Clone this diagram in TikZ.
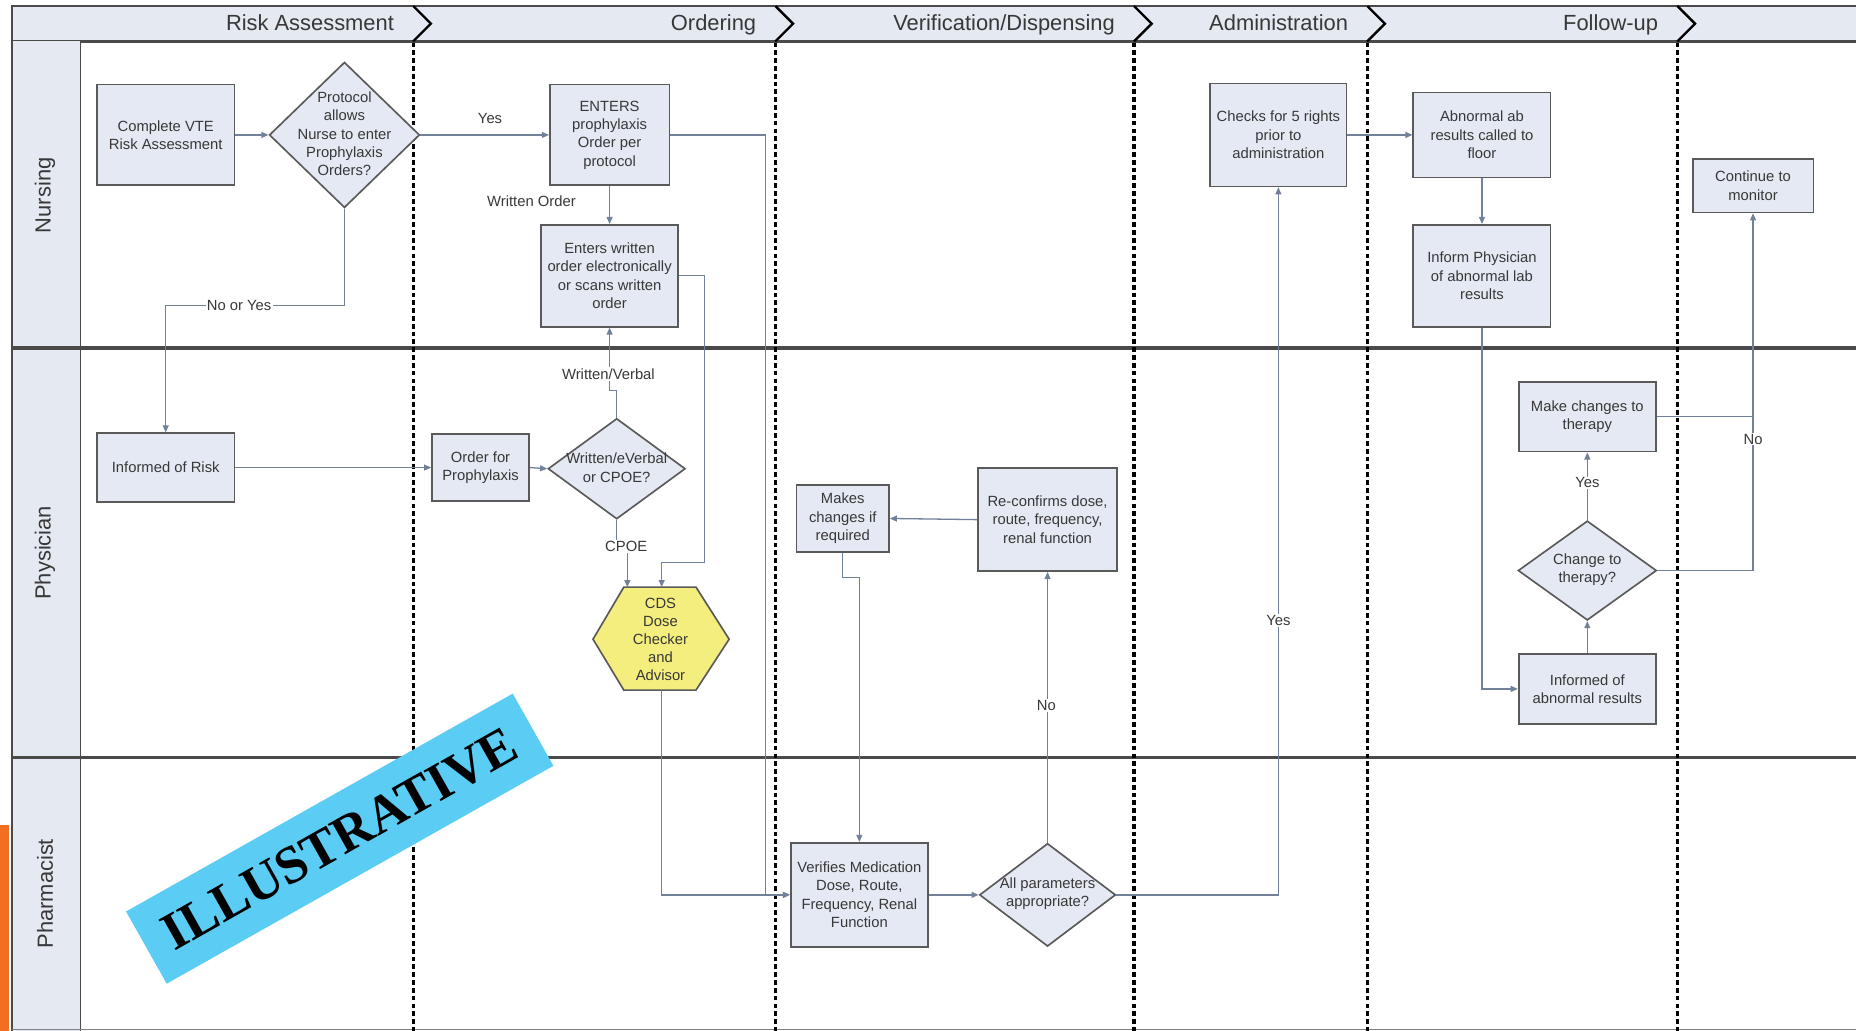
\documentclass[tikz,border=0pt]{standalone}
\usepackage{fontspec}
\setmainfont{Liberation Sans}
\newfontfamily\stampfont{Liberation Serif}
\usetikzlibrary{shapes.geometric,arrows.meta}

\definecolor{boxfill}{HTML}{E4E9F3}
\definecolor{boxline}{HTML}{5A5A5A}
\definecolor{flowline}{HTML}{71819A}
\definecolor{lanefill}{HTML}{E4E9F2}
\definecolor{laneline}{HTML}{4A4A4A}
\definecolor{txt}{HTML}{383838}
\definecolor{cdsfill}{HTML}{F4EE7E}
\definecolor{stampblue}{HTML}{5BCDF5}
\definecolor{sideorange}{HTML}{F36E21}

\tikzset{
  stepbox/.style={draw=boxline, fill=boxfill, line width=1.4pt, align=center,
    font=\fontsize{12.5}{15.5}\selectfont, text=txt, inner sep=1pt},
  decision/.style={draw=boxline, fill=boxfill, line width=1.4pt, diamond,
    inner sep=0pt},
  dtext/.style={align=center, font=\fontsize{12.5}{15.5}\selectfont, text=txt, inner sep=0pt},
  flow/.style={draw=flowline, line width=1.1pt, -{Triangle[length=6pt,width=5pt]}},
  plainflow/.style={draw=flowline, line width=1.1pt},
  flowlabel/.style={font=\fontsize{12.5}{15}\selectfont, text=txt, fill=white, inner sep=1pt},
  phase/.style={black, line width=2.6pt, dash pattern=on 4pt off 2.6pt},
  phasetitle/.style={font=\fontsize{18.5}{20}\selectfont, text=txt, anchor=base east, inner sep=0pt},
  lanetitle/.style={font=\fontsize{18.5}{20}\selectfont, text=txt, rotate=90, inner sep=0pt},
}

\begin{document}
\begin{tikzpicture}[x=1pt,y=-1pt]
\useasboundingbox (0,0) rectangle (1568,871);
\fill[white] (0,0) rectangle (1568,871);

% side accent bar
\fill[sideorange] (0,697) rectangle (8,871);

% header band
\fill[lanefill] (10,5) rectangle (1568,35);
\draw[laneline, line width=2pt] (10,5) -- (1568,5);
\draw[laneline, line width=2pt] (10,35) -- (1568,35);

% lane title column
\fill[lanefill] (10,35) rectangle (68,871);
\draw[laneline, line width=2pt] (10,4) -- (10,871);
\draw[laneline, line width=1.5pt] (68,35) -- (68,871);

% lane separators
\draw[laneline, line width=2.6pt] (10,294) -- (1568,294);
\draw[laneline, line width=2.6pt] (10,640) -- (1568,640);
\draw[gray, line width=1pt] (10,870) -- (1568,870);

% phase separators with header chevrons
\foreach \px in {349,655,958,1155,1417}{
  \draw[phase] (\px,36) -- (\px,871);
  \draw[black, line width=2pt, line join=miter] (\px,5) -- (\px+15,20) -- (\px,35);
}

% phase titles
\node[phasetitle] (ph1) at (333,26) {Risk Assessment};
\node[phasetitle] (ph2) at (639,26) {Ordering};
\node[phasetitle] (ph3) at (942,26) {Verification/Dispensing};
\node[phasetitle] (ph4) at (1139,26) {Administration};
\node[phasetitle] (ph5) at (1401,26) {Follow-up};

% lane titles
\node[lanetitle] (ln1) at (38,165) {Nursing};
\node[lanetitle] (ln2) at (38,467) {Physician};
\node[lanetitle] (ln3) at (38,755) {Pharmacist};

% ---------- Nursing lane ----------
\node[stepbox, minimum width=116pt, minimum height=85pt] (n1) at (140,114) {Complete VTE\\Risk Assessment};
\node[decision, minimum width=127pt, minimum height=123pt] (d1) at (291,114) {};
\node[dtext] (d1t) at (291,113) {Protocol\\allows\\Nurse to enter\\Prophylaxis\\Orders?};
\node[stepbox, minimum width=101pt, minimum height=85pt] (n2) at (515,114) {ENTERS\\prophylaxis\\Order per\\protocol};
\node[stepbox, minimum width=116pt, minimum height=86pt] (n3) at (515,233) {Enters written\\order electronically\\or scans written\\order};
\node[stepbox, minimum width=115pt, minimum height=87pt] (n4) at (1080,114) {Checks for 5 rights\\prior to\\administration};
\node[stepbox, minimum width=116pt, minimum height=72pt] (n5) at (1252,114) {Abnormal ab\\results called to\\floor};
\node[stepbox, minimum width=116pt, minimum height=86pt] (n6) at (1252,233) {Inform Physician\\of abnormal lab\\results};
\node[stepbox, minimum width=102pt, minimum height=45pt] (n7) at (1481,157) {Continue to\\monitor};

% ---------- Physician lane ----------
\node[stepbox, minimum width=116pt, minimum height=58pt] (p1) at (140,395) {Informed of Risk};
\node[stepbox, minimum width=82pt, minimum height=57pt] (p2) at (406,395) {Order for\\Prophylaxis};
\node[decision, minimum width=116pt, minimum height=85pt] (d2) at (521,396) {};
\node[dtext] (d2t) at (521,395) {Written/eVerbal\\or CPOE?};
\coordinate (cds) at (558,540);
\draw[boxline, fill=cdsfill, line width=1.4pt, line join=miter]
  (527,496) -- (588,496) -- (616,540) -- (588,583) -- (527,583) -- (501,540) -- cycle;
\node[dtext, font=\fontsize{12.5}{15.3}\selectfont] (cdst) at (cds) {CDS\\Dose\\Checker\\and\\Advisor};
\coordinate (cdstop1) at (530,496);
\coordinate (cdstop2) at (559,496);
\coordinate (cdsbot) at (559,583);
\node[stepbox, minimum width=78pt, minimum height=57pt] (p3) at (712,438) {Makes\\changes if\\required};
\node[stepbox, minimum width=117pt, minimum height=87pt] (p4) at (885,439) {Re-confirms dose,\\route, frequency,\\renal function};
\node[stepbox, minimum width=116pt, minimum height=59pt] (p5) at (1341,352) {Make changes to\\therapy};
\node[decision, minimum width=117pt, minimum height=84pt] (d3) at (1341,482) {};
\node[dtext] (d3t) at (1341,481) {Change to\\therapy?};
\node[stepbox, minimum width=116pt, minimum height=59pt] (p6) at (1341,582) {Informed of\\abnormal results};

% ---------- Pharmacist lane ----------
\node[stepbox, minimum width=116pt, minimum height=88pt] (r1) at (726,756) {Verifies Medication\\Dose, Route,\\Frequency, Renal\\Function};
\node[decision, minimum width=115pt, minimum height=87pt] (d4) at (885,756) {};
\node[dtext] (d4t) at (885,755) {All parameters\\appropriate?};

% ---------- connectors ----------
\draw[flow] (n1.east) -- (d1.west);
\draw[flow] (d1.east) -- (n2.west);
\node[font=\fontsize{12.5}{15}\selectfont, text=txt] (lyes1) at (414,100) {Yes};
\draw[flow] (d1.south) -- (291,258) -| (p1.north);
\node[flowlabel] (lnoyes) at (202,258) {No or Yes};
\draw[flow] (n2.south) -- (n3.north);
\node[font=\fontsize{12.5}{15}\selectfont, text=txt] (lwo) at (449,170) {Written Order};
\draw[flow] (n2.east) -- (647,114) |- (r1.west);
\draw[flow] (n3.east) -- (595,233) -- (595,475) -- (559,475) -- (cdstop2);
\draw[flow] (d2.north) -- (521,330) -- (515,330) -- (n3.south);
\node[flowlabel] (lwv) at (514,316) {Written/Verbal};
\draw[flow] (p1.east) -- (p2.west);
\draw[flow] (p2.east) -- (d2.west);
\draw[flow] (d2.south) -- (521,462) -- (530,462) -- (cdstop1);
\node[flowlabel] (lcpoe) at (529,462) {CPOE};
\draw[flow] (cdsbot) |- (r1.west);
\draw[flow] (p4.west) -- (p3.east);
\draw[flow] (p3.south) -- (712,488) -| (r1.north);
\draw[flow] (r1.east) -- (d4.west);
\draw[flow] (d4.north) -- (p4.south);
\node[flowlabel] (lno1) at (884,596) {No};
\draw[flow] (d4.east) -| (n4.south);
\node[flowlabel] (lyes2) at (1080,524) {Yes};
\draw[flow] (n4.east) -- (n5.west);
\draw[flow] (n5.south) -- (n6.north);
\draw[flow] (n6.south) |- (p6.west);
\draw[flow] (p6.north) -- (d3.south);
\draw[flow] (d3.north) -- (p5.south);
\node[flowlabel] (lyes3) at (1341,408) {Yes};
\draw[flow] (d3.east) -| (n7.south);
\draw[plainflow] (p5.east) -- (1481,352);
\node[flowlabel] (lno2) at (1481,371) {No};

% ---------- stamp ----------
\node[fill=stampblue, rotate=29.4, minimum width=375pt, minimum height=70pt, inner sep=0pt,
      font=\stampfont\bfseries\fontsize{45}{45}\selectfont, text=black] (stamp) at (287,708.5) {ILLUSTRATIVE};
\end{tikzpicture}
\end{document}
